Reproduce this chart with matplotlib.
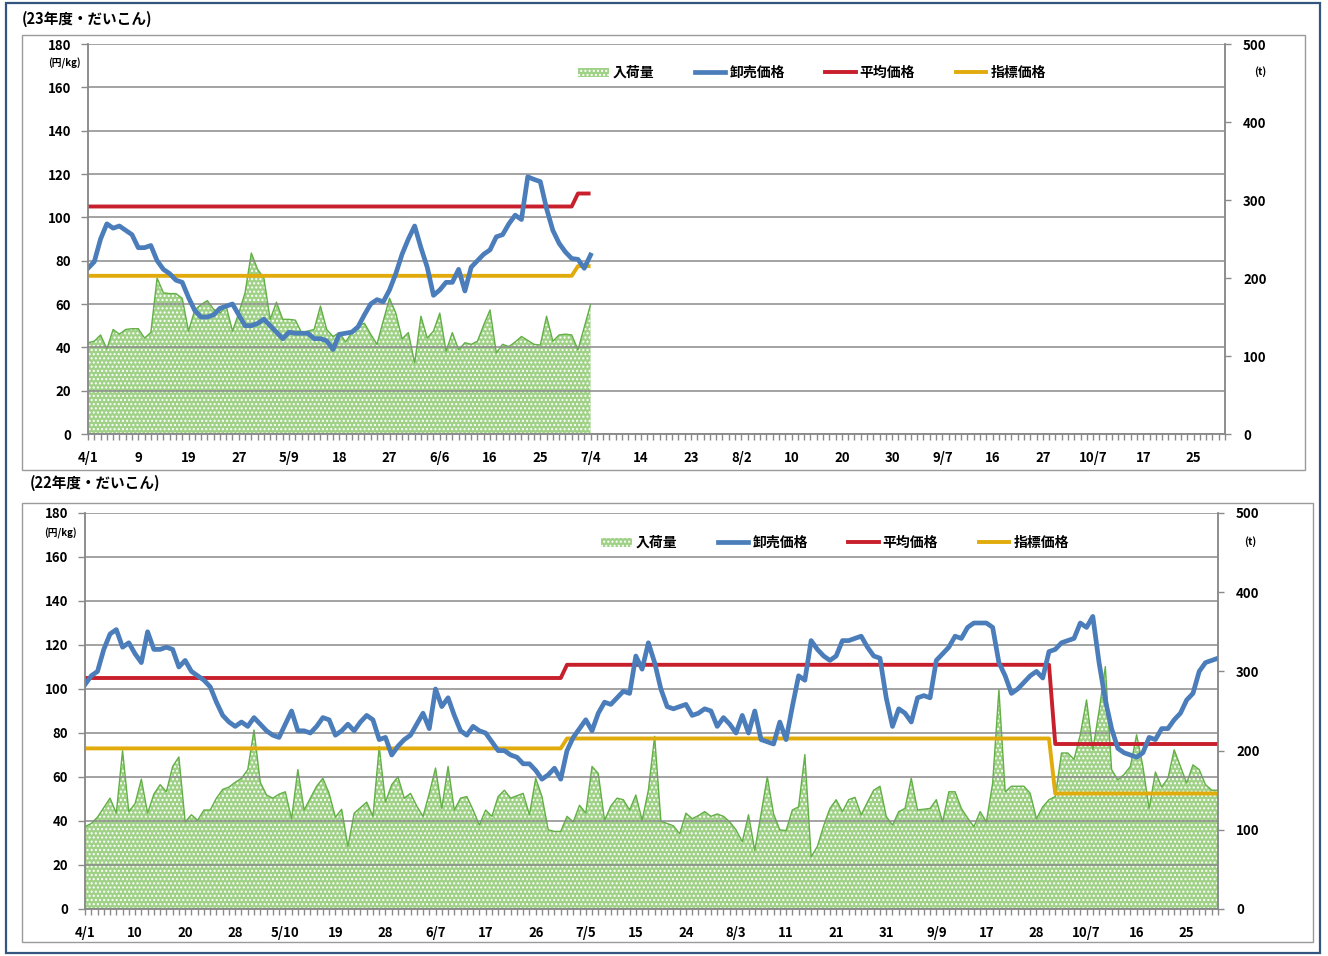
import matplotlib
matplotlib.use('Agg')
import matplotlib.pyplot as plt
from matplotlib.lines import Line2D
from matplotlib.patches import Patch, Rectangle
import numpy as np

plt.rcParams['font.family'] = ['Noto Sans CJK JP', 'DejaVu Sans']
plt.rcParams['hatch.linewidth'] = 1.0

series_names = ['入荷量', '卸売価格', '平均価格', '指標価格']
title_23 = '(23年度・だいこん)'
title_22 = '(22年度・だいこん)'

labels_23 = ['4/1', '9', '19', '27', '5/9', '18', '27', '6/6', '16', '25', '7/4', '14',
             '23', '8/2', '10', '20', '30', '9/7', '16', '27', '10/7', '17', '25']
labels_22 = ['4/1', '10', '20', '28', '5/10', '19', '28', '6/7', '17', '26', '7/5', '15',
             '24', '8/3', '11', '21', '31', '9/9', '17', '28', '10/7', '16', '25']

n_days = 182          # market days on the category axis (4/1 .. end of October)
label_step = 8        # a date label every 8 market days

# ---- FY23 (円/kg, t) ----
price_23 = [76.5, 79.5, 90, 97, 95, 96, 94, 92, 86, 86,
            87, 80, 76, 74, 71, 70, 63, 57, 54, 54,
            55, 58, 59, 60, 55, 50, 50, 51, 53, 50,
            47, 44, 47, 46.5, 46.5, 46.5, 44, 44, 43, 39,
            46, 46.5, 47, 49.5, 55, 60, 62, 61, 66.5, 74,
            83, 90, 96, 86, 77, 64, 66.5, 70, 70, 76,
            66, 77, 80, 83, 85, 91, 92, 97, 101, 99,
            118.7, 117.5, 116.5, 104, 94, 88, 84, 81, 80.6, 76.5,
            82.6]
volume_23 = [117, 119, 127, 109, 134, 128, 134, 135, 135, 123,
             130, 200, 181, 180, 180, 174, 132, 159, 166, 171,
             160, 155, 164, 132, 155, 181, 232, 211, 200, 147,
             169, 147, 147, 146, 130, 132, 134, 164, 134, 125,
             130, 118, 130, 138, 142, 128, 115, 145, 174, 155,
             122, 130, 91, 151, 123, 132, 155, 106, 130, 108,
             117, 115, 119, 140, 159, 104, 115, 112, 118, 125,
             120, 115, 114, 151, 119, 127, 128, 127, 108, 137,
             166]
avg_23 = [105] * 78 + [111] * 3
index_23 = [73] * 78 + [77.5] * 3

# ---- FY22 ----
price_22 = [102, 106, 108, 118, 125, 127, 119, 121, 116, 112,
            126, 118, 118, 119, 118, 110, 113, 108, 106, 104,
            101, 94, 88, 85, 83, 85, 83, 87, 84, 81,
            79, 78, 84, 90, 81, 81, 80, 83, 87, 86,
            79, 81, 84, 81, 85, 88, 86, 77, 78, 70,
            74, 77, 79, 84, 89, 82, 100, 92, 96, 88,
            81, 79, 83, 81, 80, 76, 72, 72, 70, 69,
            66, 66, 63, 59, 61, 64, 59, 72, 78, 82,
            86, 81, 89, 94, 93, 96, 99, 98, 115, 109,
            121, 112, 100, 92, 91, 92, 93, 88, 89, 91,
            90, 83, 87, 84, 80, 88, 80, 90, 77, 76,
            75, 85, 77, 92, 106, 104, 122, 118, 115, 113,
            115, 122, 122, 123, 124, 119, 115, 114, 96, 83,
            91, 89, 85, 96, 97, 96, 113, 116, 119, 124,
            123, 128, 130, 130, 130, 128, 112, 106, 98, 100,
            103, 106, 108, 105, 117, 118, 121, 122, 123, 130,
            128, 133, 112, 95, 82, 73, 71, 70, 69, 71,
            78, 77, 82, 82, 86, 89, 95, 98, 108, 112,
            113, 114]
volume_22 = [104, 108, 116, 128, 140, 121, 200, 123, 133, 164,
             121, 145, 157, 148, 180, 192, 110, 119, 112, 125,
             125, 140, 151, 154, 160, 165, 176, 226, 160, 144,
             140, 145, 148, 114, 176, 125, 140, 155, 165, 146,
             116, 126, 79, 121, 128, 135, 117, 205, 135, 157,
             167, 140, 146, 130, 117, 146, 178, 127, 180, 125,
             140, 142, 125, 106, 125, 117, 142, 150, 140, 143,
             146, 119, 165, 142, 100, 98, 98, 117, 110, 131,
             121, 180, 171, 112, 130, 140, 138, 125, 144, 112,
             150, 218, 111, 108, 105, 95, 121, 114, 118, 123,
             117, 120, 117, 110, 100, 85, 119, 74, 120, 167,
             120, 100, 99, 125, 129, 195, 66, 79, 105, 127,
             138, 123, 138, 141, 119, 135, 150, 155, 117, 106,
             123, 127, 165, 125, 126, 127, 138, 110, 148, 148,
             127, 115, 104, 123, 110, 159, 277, 148, 155, 155,
             155, 146, 114, 129, 138, 142, 197, 197, 189, 220,
             264, 201, 250, 306, 176, 163, 170, 180, 220, 180,
             127, 173, 154, 165, 201, 180, 159, 182, 176, 157,
             150, 150]
avg_22 = [105] * 77 + [111] * 78 + [75] * 27
index_22 = [73] * 77 + [77.5] * 78 + [52.5] * 27

C_GREEN = '#9fd186'
C_GREEN_EDGE = '#62b046'
C_BLUE = '#4a7dba'
C_RED = '#c71f2b'
C_YELLOW = '#e2ab0c'
C_GRID = '#8a8a8a'

W, H = 1328, 956
fig = plt.figure(figsize=(W / 100, H / 100), dpi=100)
fig.patch.set_facecolor('white')


def fx(px):
    return px / W


def fy(py):
    return 1 - py / H


def draw_panel(left, top, right, bottom, labels, price, volume, avg, idx):
    ax = fig.add_axes([fx(left), fy(bottom), fx(right - left), (bottom - top) / H])
    ax2 = ax.twinx()
    xv = np.arange(len(volume))
    ax2.fill_between(xv, volume, 0, facecolor=C_GREEN, edgecolor='white',
                     hatch='....', linewidth=0)
    ax2.plot(xv, volume, color=C_GREEN_EDGE, lw=1.0)
    ax2.set_ylim(0, 500)
    ax2.set_yticks(range(0, 501, 100))
    ax2.tick_params(axis='y', direction='out', length=4, width=1, color=C_GRID,
                    pad=9, labelsize=9.5)
    for t in ax2.get_yticklabels():
        t.set_fontweight('bold')

    ax.set_zorder(ax2.get_zorder() + 1)
    ax.patch.set_visible(False)
    xp = np.arange(len(price))
    ax.plot(xp, idx, color=C_YELLOW, lw=2.8, solid_capstyle='butt')
    ax.plot(xp, avg, color=C_RED, lw=2.8, solid_capstyle='butt')
    ax.plot(xp, price, color=C_BLUE, lw=3.4, solid_joinstyle='round')

    ax.set_xlim(0, n_days - 1)
    ax.set_ylim(0, 180)
    ax.set_yticks(range(0, 181, 20))
    ax.set_xticks(range(0, label_step * len(labels), label_step))
    ax.set_xticklabels(labels)
    ax.set_xticks(range(0, n_days), minor=True)
    ax.tick_params(axis='x', which='both', direction='out', length=4, width=1,
                   color=C_GRID, pad=8, labelsize=9.5)
    ax.tick_params(axis='y', direction='out', length=5, width=1, color=C_GRID,
                   pad=7, labelsize=9.5)
    for t in ax.get_xticklabels() + ax.get_yticklabels():
        t.set_fontweight('bold')
    ax.grid(axis='y', color=C_GRID, lw=1.1)
    ax.set_axisbelow(True)
    for a in (ax, ax2):
        for s in a.spines.values():
            s.set_color(C_GRID)
            s.set_linewidth(1.1)
        a.spines['top'].set_visible(False)
    return ax


# outer frame and panel boxes
fig.add_artist(Rectangle((fx(6), fy(953)), fx(1320 - 6), (953 - 3) / H,
                         transform=fig.transFigure, fill=False,
                         edgecolor='#33557f', lw=1.6))
fig.add_artist(Rectangle((fx(22), fy(470)), fx(1305 - 22), (470 - 35) / H,
                         transform=fig.transFigure, fill=False,
                         edgecolor='#9a9a9a', lw=1.0))
fig.add_artist(Rectangle((fx(22), fy(942)), fx(1313 - 22), (942 - 503) / H,
                         transform=fig.transFigure, fill=False,
                         edgecolor='#9a9a9a', lw=1.0))

draw_panel(88, 44, 1225, 434, labels_23, price_23, volume_23, avg_23, index_23)
draw_panel(85, 513, 1218, 909, labels_22, price_22, volume_22, avg_22, index_22)

fig.text(fx(22), fy(19), title_23, fontsize=10.5, fontweight='bold', va='center', ha='left')
fig.text(fx(30), fy(483), title_22, fontsize=10.5, fontweight='bold', va='center', ha='left')

fig.text(fx(64), fy(63), '(円/kg)', fontsize=7, fontweight='bold', va='center', ha='center')
fig.text(fx(60), fy(533), '(円/kg)', fontsize=7, fontweight='bold', va='center', ha='center')
fig.text(fx(1260), fy(72), '(t)', fontsize=7.5, fontweight='bold', va='center', ha='center')
fig.text(fx(1250), fy(542), '(t)', fontsize=7.5, fontweight='bold', va='center', ha='center')

handles = [Patch(facecolor=C_GREEN, edgecolor='white', hatch='....', lw=0),
           Line2D([], [], color=C_BLUE, lw=3.4),
           Line2D([], [], color=C_RED, lw=2.8),
           Line2D([], [], color=C_YELLOW, lw=2.8)]

for x0, y0 in ((578, 73), (601, 543)):
    leg = fig.legend(handles, series_names, loc='center left',
                     bbox_to_anchor=(fx(x0), fy(y0)), ncol=4, frameon=False,
                     borderpad=0, borderaxespad=0, handlelength=2.2,
                     handleheight=0.6, handletextpad=0.3, columnspacing=2.9,
                     prop={'size': 10, 'weight': 'bold'})

fig.savefig('out.png', dpi=100, facecolor='white')
